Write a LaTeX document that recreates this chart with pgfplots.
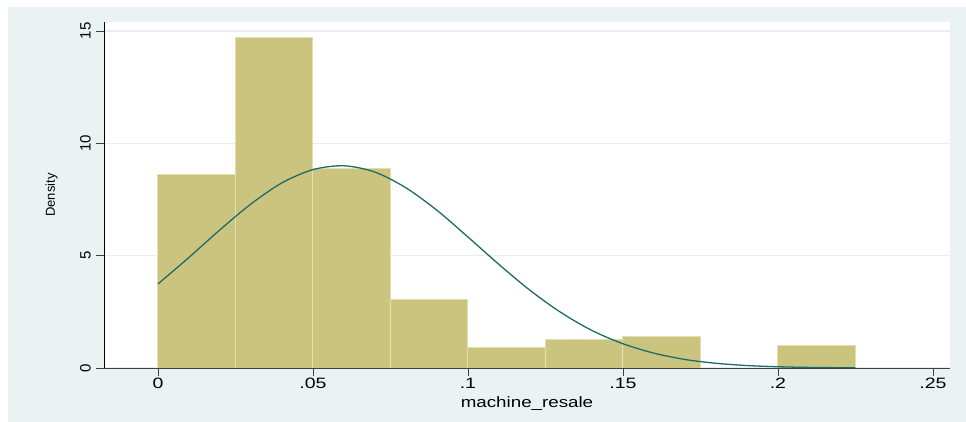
\documentclass[border=0pt]{standalone}
\usepackage{pgfplots}
\pgfplotsset{compat=1.18}
\usepackage{fontspec}
\setmainfont{Liberation Sans}
\definecolor{bgc}{HTML}{EAF2F3}
\definecolor{barc}{HTML}{CBC47F}
\definecolor{edgec}{HTML}{E3DFB2}
\definecolor{curvec}{HTML}{1F6B68}
\definecolor{gridc}{HTML}{E6EEF0}
\begin{document}
\begin{tikzpicture}[x=1pt,y=1pt]
\useasboundingbox (0,0) rectangle (966,421);
\fill[white] (0,0) rectangle (966,421);
\fill[bgc] (8,-20) rectangle (990,414);
\begin{axis}[
  at={(104pt,53pt)}, anchor=south west,
  scale only axis, width=846pt, height=346pt,
  xmin=-0.0174, xmax=0.2555, ymin=0, ymax=15.40,
  axis background/.style={fill=white},
  axis x line*=bottom, axis y line*=left,
  x axis line style={draw=black!75, line width=1pt, -},
  y axis line style={draw=black, line width=1pt, -},
  tick align=outside,
  xtick={0,0.05,0.1,0.15,0.2,0.25},
  xticklabels={0,.05,.1,.15,.2,.25},
  ytick={0,5,10,15},
  yticklabels={0,5,10,15},
  x tick style={draw=black!75, line width=0.8pt},
  y tick style={draw=black!75, line width=0.8pt},
  major tick length=8pt,
  ymajorgrids, grid style={draw=gridc, line width=1.5pt},
  tick label style={font=\fontsize{15}{17}\selectfont},
  x tick label style={xscale=1.3, inner sep=2pt},
  y tick label style={rotate=90, anchor=south, inner sep=5pt},
  xlabel={machine\_resale},
  xlabel style={font=\fontsize{15}{17}\selectfont, xscale=1.25, yshift=-2pt},
  ylabel={Density},
  ylabel style={font=\fontsize{13}{15}\selectfont, yshift=14pt},
]
\addplot[ybar interval, fill=barc, draw=edgec, line width=1pt] coordinates {
  (0,8.60) (0.025,14.69) (0.05,8.86) (0.075,3.03) (0.1,0.92) (0.125,1.25) (0.15,1.42) (0.175,0)
};
\addplot[ybar interval, fill=barc, draw=edgec, line width=1pt] coordinates {
  (0.2,1.01) (0.225,0)
};
\addplot[curvec, line width=1.3pt, smooth] coordinates {
  (0,3.74) (0.01,4.92) (0.02,6.15) (0.03,7.30) (0.04,8.24) (0.05,8.83) (0.06,9.00)
  (0.07,8.72) (0.08,8.02) (0.09,7.02) (0.10,5.83) (0.11,4.61) (0.12,3.46) (0.13,2.47)
  (0.14,1.67) (0.15,1.08) (0.16,0.66) (0.17,0.38) (0.18,0.21) (0.19,0.11) (0.20,0.056)
  (0.21,0.026) (0.225,0.008)
};
\draw[black!75, line width=1pt] (rel axis cs:0,0) -- (rel axis cs:1,0);
\draw[black, line width=1pt] (rel axis cs:0,0) -- (rel axis cs:0,1);
\end{axis}
\end{tikzpicture}
\end{document}
